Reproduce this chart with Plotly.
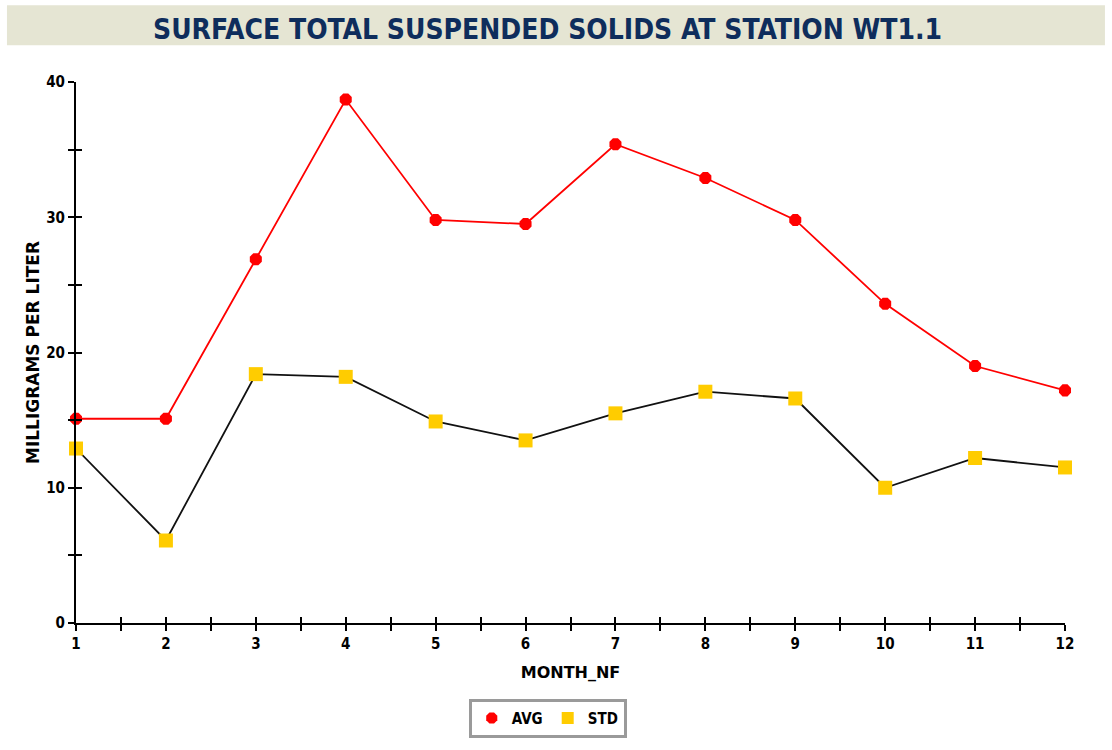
import plotly.graph_objects as go

months = [1, 2, 3, 4, 5, 6, 7, 8, 9, 10, 11, 12]
avg_tss = [15.1, 15.1, 26.9, 38.7, 29.8, 29.5, 35.4, 32.9, 29.8, 23.6, 19.0, 17.2]
std_tss = [12.9, 6.1, 18.4, 18.2, 14.9, 13.5, 15.5, 17.1, 16.6, 10.0, 12.2, 11.5]
x_ticks = months
y_ticks = [0, 10, 20, 30, 40]

COND = "DejaVu Sans Condensed, Liberation Sans Narrow, Arial Narrow, sans-serif"
WIDE = "DejaVu Sans, Verdana, sans-serif"
RED = "#FF0000"
GOLD = "#FFCC00"

fig = go.Figure()

# connecting lines (no legend entry)
fig.add_trace(go.Scatter(x=months, y=avg_tss, mode="lines",
                         line=dict(color=RED, width=1.8),
                         showlegend=False, hoverinfo="skip", cliponaxis=False))
fig.add_trace(go.Scatter(x=months, y=std_tss, mode="lines",
                         line=dict(color="#111111", width=1.8),
                         showlegend=False, hoverinfo="skip", cliponaxis=False))
# markers (legend shows only the symbols)
fig.add_trace(go.Scatter(x=months, y=avg_tss, mode="markers", name="AVG",
                         marker=dict(color=RED, symbol="octagon", size=13, line=dict(width=0)),
                         cliponaxis=False))
fig.add_trace(go.Scatter(x=months, y=std_tss, mode="markers", name="STD",
                         marker=dict(color=GOLD, symbol="square", size=14, line=dict(width=0)),
                         cliponaxis=False))

axis_common = dict(showgrid=False, zeroline=False, showline=True, linecolor="black",
                   linewidth=2, ticks="outside", ticklen=6, tickwidth=2, tickcolor="black",
                   tickfont=dict(family=COND, size=15, color="black", weight="bold"))

fig.update_layout(
    width=1112, height=750,
    margin=dict(l=76, r=47, t=82, b=125),
    paper_bgcolor="white", plot_bgcolor="white",
    xaxis=dict(range=[1, 12], tickmode="array", tickvals=x_ticks,
               minor=dict(dtick=0.5, tick0=1, ticks="outside", ticklen=6, tickwidth=2, tickcolor="black"),
               title=dict(text="<b>MONTH_NF</b>", font=dict(family=WIDE, size=16, color="black"), standoff=15),
               **axis_common),
    yaxis=dict(range=[0, 40], tickmode="array", tickvals=y_ticks,
               minor=dict(dtick=5, tick0=0, ticks="outside", ticklen=6, tickwidth=2, tickcolor="black"),
               title=dict(text="<b>MILLIGRAMS PER LITER</b>", font=dict(family=WIDE, size=17, color="black"), standoff=2),
               **axis_common),
    # companion axes that draw the inner half of every tick
    xaxis2=dict(overlaying="x", anchor="y", side="bottom", range=[1, 12], tickmode="linear",
                tick0=1, dtick=0.5, ticks="inside", ticklen=6, tickwidth=2, tickcolor="black",
                showticklabels=False, showgrid=False, zeroline=False, showline=False),
    yaxis2=dict(overlaying="y", anchor="x", side="left", range=[0, 40], tickmode="linear",
                tick0=0, dtick=5, ticks="inside", ticklen=6, tickwidth=2, tickcolor="black",
                showticklabels=False, showgrid=False, zeroline=False, showline=False),
    legend=dict(orientation="h", x=0.477, xanchor="center", y=-0.14, yanchor="top",
                bordercolor="#9A9A9A", borderwidth=3, bgcolor="white",
                font=dict(family=COND, size=15, color="black", weight="bold"),
                itemsizing="constant", itemwidth=30, tracegroupgap=0),
    shapes=[dict(type="rect", xref="paper", yref="paper",
                 x0=-0.0698, x1=1.0404, y0=1.068, y1=1.1418,
                 fillcolor="#E5E5D3", line=dict(width=0), layer="below")],
    annotations=[dict(text="<b>SURFACE TOTAL SUSPENDED SOLIDS AT STATION WT1.1</b>",
                      xref="paper", yref="paper", x=0.477, y=1.097, xanchor="center", yanchor="middle",
                      showarrow=False,
                      font=dict(family=COND, size=28, color="#0E2D5C"))],
)

# invisible anchors so the companion axes are drawn
fig.add_trace(go.Scatter(x=[1], y=[0], xaxis="x2", yaxis="y2", mode="markers",
                         marker=dict(opacity=0), showlegend=False, hoverinfo="skip"))

fig.write_html("out.html")
